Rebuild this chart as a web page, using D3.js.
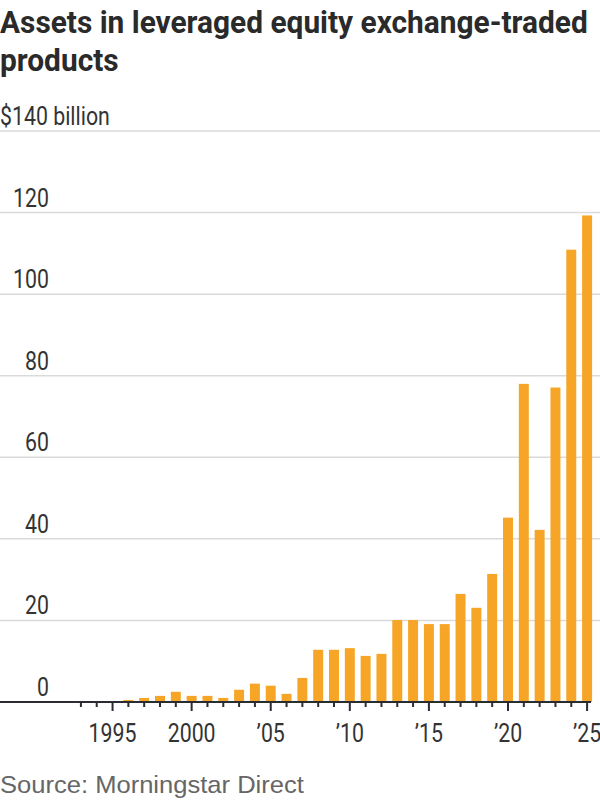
<!DOCTYPE html>
<html>
<head>
<meta charset="utf-8">
<script src="https://cdn.jsdelivr.net/npm/d3@7"></script>
<style>
  body { margin: 0; background: #fff; }
  svg { display: block; }
</style>
</head>
<body>
<div id="chart"></div>
<script>
var width = 600, height = 800;

// data
var years = [1993, 1994, 1995, 1996, 1997, 1998, 1999, 2000, 2001, 2002,
             2003, 2004, 2005, 2006, 2007, 2008, 2009, 2010, 2011, 2012,
             2013, 2014, 2015, 2016, 2017, 2018, 2019, 2020, 2021, 2022,
             2023, 2024, 2025];
var assets = [0, 0, 0, 0.5, 1.0, 1.5, 2.5, 1.5, 1.5, 1.0,
              3.0, 4.5, 4.0, 2.0, 5.9, 12.8, 12.8, 13.2, 11.3, 11.8,
              20.1, 20.1, 19.1, 19.1, 26.5, 23.1, 31.4, 45.2, 78.0, 42.2,
              77.1, 110.9, 119.3];
var yTicks = [0, 20, 40, 60, 80, 100, 120, 140];
var xTickYears = [1995, 2000, 2005, 2010, 2015, 2020, 2025];
var xTickLabels = ["1995", "2000", "\u201905", "\u201910", "\u201915", "\u201920", "\u201925"];

var font = "'Roboto', 'Liberation Sans', sans-serif";
var squeeze = 0.82;   // no narrow face installed, so labels are squeezed

var svg = d3.select("#chart").append("svg")
    .attr("width", width)
    .attr("height", height);

var x = d3.scaleBand()
    .domain(years)
    .range([73, 595])
    .paddingInner(0.37)
    .paddingOuter(0.185);

var y = d3.scaleLinear()
    .domain([0, 140])
    .range([702, 131]);

function place(px, py, sx) {
  return "translate(" + px + "," + py + ") scale(" + sx + ",1)";
}

// squeeze a text horizontally so it spans the target width
function fitWidth(sel, px, py, target) {
  var w = sel.node().getComputedTextLength();
  var sx = w > 0 ? target / w : 1;
  sel.attr("transform", place(px, py, sx));
  return sx;
}

// title
var t1 = svg.append("text")
    .style("font-family", font)
    .style("font-weight", "bold")
    .style("font-size", "31px")
    .style("fill", "#2a2a2a")
    .text("Assets in leveraged equity exchange-traded");
var tsx = fitWidth(t1, 0, 33, 588);
svg.append("text")
    .attr("transform", place(0, 71, tsx))
    .style("font-family", font)
    .style("font-weight", "bold")
    .style("font-size", "31px")
    .style("fill", "#2a2a2a")
    .text("products");

// gridlines
svg.append("g")
  .selectAll("line")
  .data(yTicks.filter(function(d) { return d > 0; }))
  .enter().append("line")
    .attr("x1", 0)
    .attr("x2", width)
    .attr("y1", function(d) { return y(d); })
    .attr("y2", function(d) { return y(d); })
    .style("stroke", "#dadada")
    .style("stroke-width", 1.5);

// y labels
svg.append("g")
  .selectAll("text")
  .data(yTicks)
  .enter().append("text")
    .attr("transform", function(d) { return place(d === 140 ? 0 : 49, y(d) - 6, squeeze); })
    .style("text-anchor", function(d) { return d === 140 ? "start" : "end"; })
    .style("font-family", font)
    .style("font-size", "26px")
    .style("fill", "#333")
    .text(function(d) { return d === 140 ? "$140 billion" : d; });

// bars
svg.append("g")
  .selectAll("rect")
  .data(years)
  .enter().append("rect")
    .attr("x", function(d) { return x(d); })
    .attr("width", x.bandwidth())
    .attr("y", function(d, i) { return y(assets[i]); })
    .attr("height", function(d, i) { return y(0) - y(assets[i]); })
    .style("fill", "#f6a526");

// x axis line and ticks
var xc = function(d) { return x(d) + x.bandwidth() / 2; };

svg.append("line")
    .attr("x1", 0).attr("x2", 591)
    .attr("y1", y(0)).attr("y2", y(0))
    .style("stroke", "#2b2b33")
    .style("stroke-width", 2);

svg.append("g")
  .selectAll("line")
  .data(years)
  .enter().append("line")
    .attr("x1", xc).attr("x2", xc)
    .attr("y1", y(0))
    .attr("y2", function(d) { return xTickYears.indexOf(d) >= 0 ? y(0) + 9 : y(0) + 5; })
    .style("stroke", "#2b2b33")
    .style("stroke-width", 2);

svg.append("g")
  .selectAll("text")
  .data(xTickYears)
  .enter().append("text")
    .attr("transform", function(d) { return place(xc(d), 742, squeeze); })
    .style("text-anchor", "middle")
    .style("font-family", font)
    .style("font-size", "26px")
    .style("fill", "#333")
    .text(function(d, i) { return xTickLabels[i]; });

// source
var src = svg.append("text")
    .style("font-family", "'Liberation Sans', 'DejaVu Sans', sans-serif")
    .style("font-size", "24px")
    .style("fill", "#666")
    .text("Source: Morningstar Direct");
fitWidth(src, 0, 793, 304);
</script>
</body>
</html>
